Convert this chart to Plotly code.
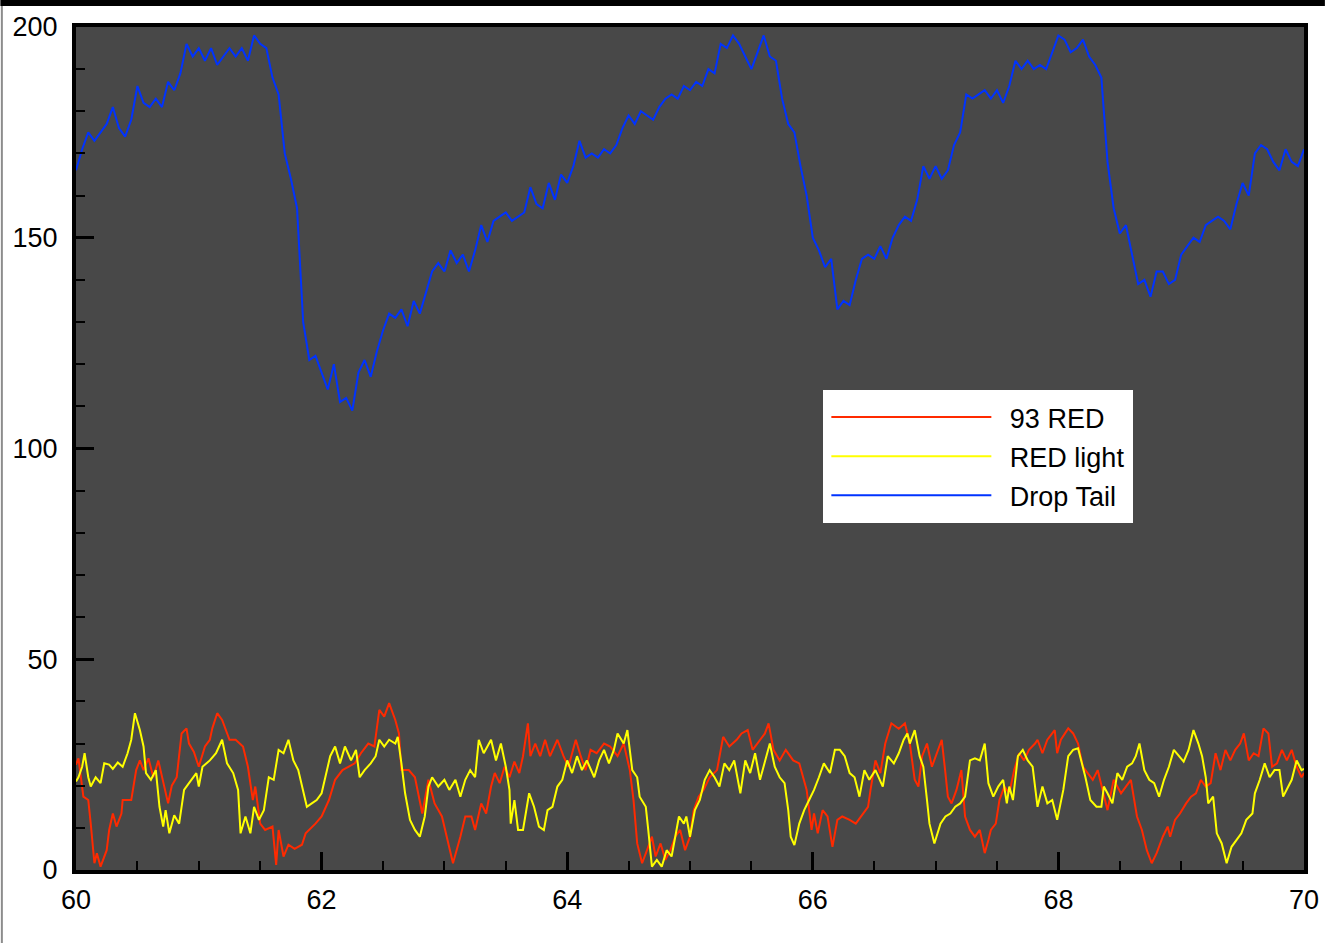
import plotly.graph_objects as go

# ---------------- data ----------------
blue_x = [round(60 + 0.05 * i, 2) for i in range(201)]
blue_y = [166, 171, 175, 173, 175, 177, 181, 176, 174, 178,
          186, 182, 181, 183, 181, 187, 185, 189, 196, 193,
          195, 192, 195, 191, 193, 195, 193, 195, 192, 198,
          196, 195, 188, 184, 170, 164, 157, 130, 121, 122,
          118, 114, 120, 111, 112, 109, 118, 121, 117, 123,
          128, 132, 131, 133, 129, 135, 132, 137, 142, 144,
          142, 147, 144, 146, 142, 147, 153, 149, 154, 155,
          156, 154, 155, 156, 162, 158, 157, 163, 159, 165,
          163, 167, 173, 169, 170, 169, 171, 170, 172, 176,
          179, 177, 180, 179, 178, 181, 183, 184, 183, 186,
          185, 187, 186, 190, 189, 196, 195, 198, 196, 193,
          190, 194, 198, 193, 192, 183, 177, 175, 167, 160,
          150, 147, 143, 145, 133, 135, 134, 140, 145, 146,
          145, 148, 145, 150, 153, 155, 154, 159, 167, 164,
          167, 164, 166, 172, 175, 184, 183, 184, 185, 183,
          185, 182, 186, 192, 190, 192, 190, 191, 190, 194,
          198, 197, 194, 195, 197, 193, 191, 188, 168, 157,
          151, 153, 146, 139, 140, 136, 142, 142, 139, 140,
          146, 148, 150, 149, 153, 154, 155, 154, 152, 158,
          163, 160, 170, 172, 171, 168, 166, 171, 168, 167,
          171]

red_x = [60.00, 60.02, 60.06, 60.10, 60.12, 60.15, 60.17, 60.20, 60.25, 60.27,
         60.30, 60.33, 60.37, 60.38, 60.45, 60.49, 60.52, 60.55, 60.59, 60.63,
         60.67, 60.71, 60.75, 60.78, 60.82, 60.86, 60.90, 60.92, 60.96, 61.00,
         61.05, 61.09, 61.11, 61.15, 61.19, 61.25, 61.30, 61.36, 61.40, 61.44,
         61.46, 61.50, 61.54, 61.60, 61.63, 61.65, 61.69, 61.73, 61.78, 61.84,
         61.87, 61.95, 62.00, 62.06, 62.11, 62.17, 62.22, 62.27, 62.32, 62.38,
         62.43, 62.47, 62.51, 62.55, 62.60, 62.63, 62.65, 62.71, 62.76, 62.82,
         62.87, 62.92, 62.98, 63.03, 63.07, 63.13, 63.17, 63.22, 63.25, 63.30,
         63.34, 63.38, 63.41, 63.45, 63.49, 63.53, 63.57, 63.61, 63.64, 63.68,
         63.70, 63.74, 63.78, 63.82, 63.86, 63.92, 63.97, 64.01, 64.07, 64.11,
         64.15, 64.19, 64.24, 64.30, 64.35, 64.41, 64.46, 64.51, 64.54, 64.57,
         64.61, 64.65, 64.69, 64.72, 64.76, 64.80, 64.84, 64.88, 64.92, 64.96,
         65.00, 65.03, 65.07, 65.11, 65.16, 65.22, 65.27, 65.32, 65.38, 65.42,
         65.47, 65.51, 65.57, 65.61, 65.64, 65.68, 65.73, 65.78, 65.84, 65.89,
         65.95, 65.99, 66.01, 66.04, 66.08, 66.12, 66.16, 66.20, 66.24, 66.30,
         66.35, 66.41, 66.45, 66.47, 66.51, 66.55, 66.59, 66.64, 66.70, 66.75,
         66.79, 66.83, 66.86, 66.89, 66.93, 66.97, 67.01, 67.05, 67.08, 67.10,
         67.13, 67.17, 67.21, 67.24, 67.28, 67.32, 67.36, 67.40, 67.43, 67.45,
         67.49, 67.52, 67.56, 67.60, 67.64, 67.68, 67.72, 67.76, 67.81, 67.83,
         67.87, 67.91, 67.97, 67.99, 68.02, 68.08, 68.12, 68.16, 68.20, 68.24,
         68.28, 68.32, 68.36, 68.40, 68.45, 68.51, 68.55, 68.59, 68.64, 68.68,
         68.72, 68.76, 68.80, 68.85, 68.89, 68.91, 68.95, 68.99, 69.04, 69.08,
         69.12, 69.16, 69.20, 69.24, 69.28, 69.32, 69.36, 69.40, 69.44, 69.48,
         69.51, 69.55, 69.59, 69.63, 69.67, 69.71, 69.74, 69.78, 69.82, 69.86,
         69.90, 69.94, 69.98, 70.00]
red_y = [25, 26.5, 17.4, 16.6, 11, 1.6, 4, 0.8, 4.7, 9.5,
         13.4, 10.3, 13.4, 16.6, 16.6, 23.7, 26, 23.7, 26.5, 22,
         26, 20.6, 15.8, 20, 22, 32.4, 33.6, 30, 28, 24.5,
         29.3, 30.9, 33.6, 37.2, 35.6, 30.9, 30.9, 29.3, 24.5, 16.6,
         19.8, 11, 9.5, 10.3, 1.2, 9.5, 3.2, 6, 5, 6,
         8.7, 11, 12.7, 16.6, 21.4, 23.7, 24.5, 25.3, 27.7, 30,
         29.3, 38, 36.4, 39.6, 35.6, 32.4, 23.7, 23.7, 22, 13.4,
         21.4, 15.8, 12.7, 6.3, 1.6, 7.9, 12.7, 12.7, 9.5, 15.8,
         13.4, 19.8, 23, 20.6, 24.5, 22, 25.7, 23, 27, 34.8,
         27, 30, 27, 30.9, 27, 30.9, 27, 24.5, 30.9, 27,
         23.7, 28.5, 27.7, 30, 29.3, 27, 30, 23.7, 16.6, 6.3,
         1.6, 4.7, 7.9, 3.2, 6.3, 2.4, 4.7, 7.9, 9.5, 4.7,
         7.9, 14.2, 17.4, 19, 22, 23.7, 31.6, 29.3, 30.9, 32.4,
         33.2, 28.5, 30.9, 32.4, 34.8, 28.5, 26, 28.5, 26, 25.3,
         19, 9.5, 13.4, 8.7, 14.2, 12.7, 5.5, 11.9, 12.7, 11.9,
         11, 13.4, 15, 19, 26, 23, 30, 34.8, 33.5, 34.8,
         30, 21.4, 19.8, 27, 30, 24.5, 27.7, 30.9, 23, 17.4,
         15.8, 19, 23.7, 12.7, 9.5, 7.9, 9.5, 4, 7.1, 9.5,
         11, 16.6, 19.8, 18.2, 23.7, 27.7, 26, 28.5, 30, 30.9,
         27.7, 30.9, 33.2, 27.7, 30.9, 33.6, 32.4, 30, 24.5, 23,
         21.4, 23.7, 19, 14.2, 21.4, 18.2, 19.8, 21.4, 12.7, 9.5,
         4.7, 1.6, 4, 7.9, 10.3, 7.9, 11.9, 13.4, 15.8, 17.4,
         18.2, 21.4, 19.8, 20.6, 27.7, 23.7, 28.5, 26, 28.5, 30,
         32.4, 26, 27.7, 27, 33.6, 32.4, 24.5, 25.3, 28.5, 26,
         28.5, 24.5, 22, 23]

yellow_x = [60.00, 60.02, 60.05, 60.07, 60.10, 60.12, 60.16, 60.20, 60.23, 60.27,
            60.30, 60.34, 60.38, 60.42, 60.45, 60.48, 60.52, 60.55, 60.57, 60.61,
            60.65, 60.68, 60.71, 60.73, 60.76, 60.80, 60.84, 60.88, 60.92, 60.98,
            61.00, 61.03, 61.09, 61.14, 61.19, 61.23, 61.28, 61.32, 61.34, 61.38,
            61.42, 61.45, 61.49, 61.53, 61.57, 61.61, 61.65, 61.69, 61.73, 61.77,
            61.81, 61.84, 61.88, 61.92, 61.96, 62.00, 62.03, 62.07, 62.11, 62.15,
            62.19, 62.24, 62.28, 62.31, 62.35, 62.40, 62.44, 62.47, 62.51, 62.55,
            62.60, 62.62, 62.65, 62.68, 62.72, 62.76, 62.80, 62.84, 62.87, 62.90,
            62.95, 63.00, 63.04, 63.09, 63.13, 63.17, 63.21, 63.25, 63.28, 63.32,
            63.38, 63.42, 63.46, 63.50, 63.53, 63.54, 63.57, 63.60, 63.64, 63.66,
            63.69, 63.73, 63.77, 63.81, 63.84, 63.88, 63.92, 63.96, 64.00, 64.04,
            64.08, 64.12, 64.16, 64.22, 64.26, 64.30, 64.34, 64.38, 64.41, 64.46,
            64.49, 64.53, 64.57, 64.59, 64.64, 64.66, 64.69, 64.73, 64.77, 64.81,
            64.85, 64.88, 64.91, 64.95, 64.97, 65.00, 65.04, 65.08, 65.12, 65.16,
            65.20, 65.24, 65.28, 65.32, 65.36, 65.41, 65.45, 65.49, 65.53, 65.57,
            65.61, 65.65, 65.69, 65.73, 65.77, 65.80, 65.82, 65.85, 65.89, 65.93,
            65.97, 66.01, 66.05, 66.09, 66.14, 66.18, 66.22, 66.26, 66.30, 66.34,
            66.38, 66.42, 66.46, 66.51, 66.57, 66.61, 66.66, 66.70, 66.74, 66.77,
            66.79, 66.83, 66.87, 66.90, 66.93, 66.95, 66.99, 67.04, 67.08, 67.12,
            67.16, 67.20, 67.24, 67.28, 67.32, 67.36, 67.40, 67.43, 67.47, 67.51,
            67.55, 67.58, 67.60, 67.63, 67.67, 67.71, 67.75, 67.79, 67.83, 67.87,
            67.91, 67.95, 67.99, 68.04, 68.08, 68.12, 68.16, 68.20, 68.22, 68.26,
            68.31, 68.35, 68.37, 68.40, 68.44, 68.48, 68.52, 68.56, 68.60, 68.63,
            68.66, 68.70, 68.74, 68.78, 68.82, 68.86, 68.90, 68.94, 68.98, 69.02,
            69.06, 69.10, 69.14, 69.17, 69.20, 69.22, 69.26, 69.29, 69.33, 69.37,
            69.41, 69.45, 69.49, 69.53, 69.58, 69.60, 69.64, 69.68, 69.72, 69.76,
            69.80, 69.83, 69.87, 69.90, 69.94, 69.98, 70.00]
yellow_y = [21, 22, 24.5, 27.7, 22, 19.8, 22, 20.6, 25.3, 25,
            24, 25.5, 24.5, 27.7, 30.9, 37.2, 33.2, 29.3, 23, 21.4,
            23.7, 15, 10.3, 14.2, 8.7, 13, 11, 19, 20.6, 23,
            19.8, 24.5, 26, 27.7, 30.9, 25.3, 23, 19, 8.7, 12.7,
            8.7, 15, 11.9, 14.2, 22, 21.4, 28.5, 27.7, 30.9, 26,
            23.7, 19.8, 15, 15.8, 16.6, 18.2, 22, 27, 29.3, 25.3,
            29.3, 26, 28.5, 22, 23.7, 25.3, 27, 30.9, 29.3, 30.9,
            30, 31.6, 25.3, 18.2, 11.9, 9.5, 7.9, 12.7, 19.8, 22,
            19.8, 21.4, 19, 21.4, 17.4, 21.4, 23.7, 22, 30.9, 27.7,
            30.9, 26, 30, 24.5, 19, 11, 16.6, 9.5, 9.5, 12.7,
            18.2, 15, 10.3, 9.5, 14.2, 15, 19.8, 21.4, 26, 23,
            27, 23.7, 26, 22, 26, 28.5, 25.3, 28.5, 32.4, 30,
            33.2, 23.7, 22, 17.4, 15, 9.5, 0.8, 2.4, 0.8, 4.7,
            3.2, 7.9, 12.7, 11, 12.7, 7.9, 14.2, 16.6, 21.4, 23.7,
            22, 19.8, 25.3, 23.7, 26, 18.2, 26, 23, 27.7, 21.4,
            26, 30, 24.5, 22, 20.6, 14.2, 7.9, 5.9, 11, 14.2,
            16.6, 19, 22, 25.3, 23, 28.5, 28.5, 27, 23, 22,
            17.4, 23.7, 21.4, 23.7, 19.8, 27, 25.3, 27.7, 30.9, 32.4,
            30, 33.2, 27, 24.5, 16.6, 11, 6.3, 11, 12.7, 13.4,
            15, 15.8, 17.4, 26, 26.5, 26, 30, 20.6, 17.4, 19.8,
            21.4, 15.8, 19.8, 16.6, 27, 28.5, 26, 24.5, 15, 19.8,
            15.8, 16.6, 11.9, 19, 27, 28.5, 28.9, 24.5, 22, 16.6,
            15, 15, 19.8, 18.2, 15.8, 23, 21.4, 24.5, 25.3, 27,
            30, 23.7, 21.4, 20.6, 17.4, 21.4, 24.5, 28.5, 27, 25.7,
            28.5, 33.2, 30, 27, 22, 15.8, 17.4, 8.7, 6.3, 1.6,
            5.5, 7.1, 8.7, 11.9, 13.4, 18.2, 21.4, 25.3, 22, 23.7,
            23.7, 17.4, 19.8, 21.4, 26, 23.7, 24]

series_names = ["93 RED", "RED light", "Drop Tail"]
series_colors = ["#ff2a00", "#ffff00", "#0033ff"]

x_range = [60, 70]
y_range = [0, 200]

# ---------------- figure ----------------
FONT = "Liberation Sans, Arial, Helvetica, sans-serif"
FS = 27
fig = go.Figure()
for name, xs, ys, col in zip(series_names,
                             [red_x, yellow_x, blue_x],
                             [red_y, yellow_y, blue_y],
                             series_colors):
    fig.add_trace(go.Scatter(x=xs, y=ys, mode="lines",
                             name="\u2002" + name,
                             line=dict(color=col, width=2),
                             legendgroup=name))

axis_common = dict(
    showgrid=False, zeroline=False,
    showline=True, linecolor="black", linewidth=4, mirror=True,
    ticks="inside", tickcolor="black",
    tickfont=dict(family=FONT, size=FS, color="black"),
)
fig.update_xaxes(range=x_range, tick0=60, dtick=2, ticklen=18, tickwidth=3,
                 minor=dict(ticks="inside", dtick=0.5, ticklen=9, tickwidth=2,
                            tickcolor="black", showgrid=False),
                 ticklabelstandoff=3, **axis_common)
fig.update_yaxes(range=y_range, tick0=0, dtick=50, ticklen=18, tickwidth=3,
                 minor=dict(ticks="inside", dtick=10, ticklen=9, tickwidth=2,
                            tickcolor="black", showgrid=False),
                 ticklabelstandoff=9, **axis_common)

L, R, T, B = 76, 21, 27, 73
W, H = 1331, 943
pw, ph = W - L - R, H - T - B

fig.update_layout(
    width=W, height=H,
    margin=dict(l=L, r=R, t=T, b=B, pad=0),
    paper_bgcolor="white", plot_bgcolor="#484848",
    font=dict(family=FONT, size=FS, color="black"),
    showlegend=True,
    legend=dict(x=(827 - L) / pw, y=(H - B - 390) / ph, xanchor="left", yanchor="top",
                bgcolor="white", bordercolor="white", borderwidth=3, itemwidth=160,
                font=dict(family=FONT, size=FS, color="black"),
                tracegroupgap=1, traceorder="grouped"),
    shapes=[
        dict(type="rect", xref="paper", yref="paper",
             x0=-L / pw, x1=1 + R / pw, y0=1 + (T - 6) / ph, y1=1 + T / ph,
             fillcolor="black", line=dict(width=0), layer="above"),
        dict(type="line", xref="paper", yref="paper",
             x0=-(L - 1.5) / pw, x1=-(L - 1.5) / pw, y0=-B / ph, y1=1 + (T - 6) / ph,
             line=dict(color="#8c8c8c", width=2), layer="above"),
    ],
)

fig.write_html("out.html", config={"displayModeBar": False},
               post_script="document.body.style.margin='0';"
                           "document.body.style.overflow='hidden';")
